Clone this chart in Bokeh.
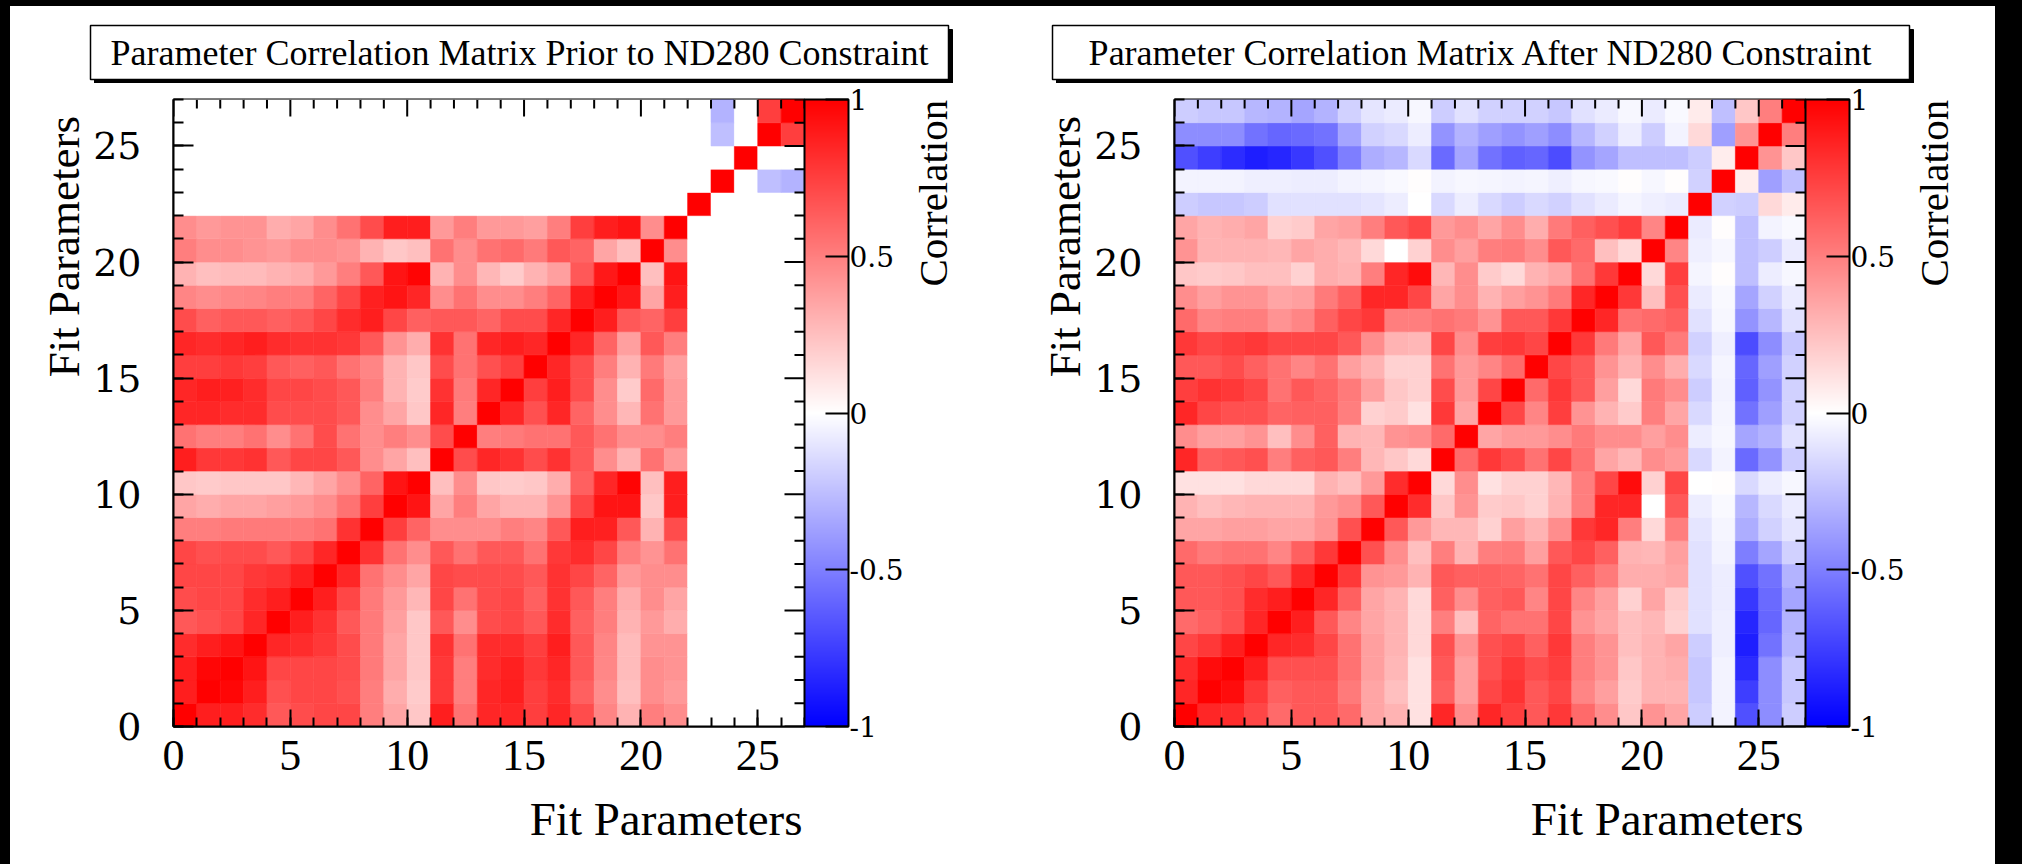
import math
import numpy as np
from bokeh.plotting import figure
from bokeh.models import (ColumnDataSource, LinearColorMapper, ColorBar,
                          SingleIntervalTicker, FixedTicker, PrintfTickFormatter, Label, Range1d)
from bokeh.layouts import row, column
from bokeh.transform import transform
from bokeh.embed import file_html
from bokeh.resources import INLINE

N_PARAMS = 27

# Lower triangle of the correlation matrix before the near-detector fit (row i, columns 0..i)
prior_rows = [
    [1.00],
    [0.88, 1.00],
    [0.88, 0.97, 1.00],
    [0.82, 0.88, 0.92, 1.00],
    [0.65, 0.68, 0.72, 0.85, 1.00],
    [0.70, 0.72, 0.72, 0.82, 0.88, 1.00],
    [0.72, 0.72, 0.72, 0.78, 0.80, 0.88, 1.00],
    [0.72, 0.68, 0.70, 0.70, 0.65, 0.72, 0.85, 1.00],
    [0.50, 0.50, 0.52, 0.52, 0.52, 0.52, 0.55, 0.80, 1.00],
    [0.35, 0.32, 0.35, 0.35, 0.38, 0.40, 0.45, 0.55, 0.75, 1.00],
    [0.22, 0.20, 0.22, 0.22, 0.22, 0.28, 0.35, 0.45, 0.60, 0.92, 1.00],
    [0.88, 0.78, 0.78, 0.80, 0.65, 0.72, 0.72, 0.65, 0.45, 0.35, 0.25, 1.00],
    [0.55, 0.50, 0.50, 0.55, 0.45, 0.55, 0.70, 0.55, 0.45, 0.50, 0.45, 0.70, 1.00],
    [0.85, 0.85, 0.82, 0.82, 0.70, 0.70, 0.70, 0.65, 0.45, 0.35, 0.22, 0.85, 0.50, 1.00],
    [0.85, 0.88, 0.87, 0.82, 0.72, 0.72, 0.70, 0.65, 0.50, 0.30, 0.20, 0.80, 0.52, 0.85, 1.00],
    [0.75, 0.75, 0.78, 0.75, 0.65, 0.62, 0.65, 0.55, 0.48, 0.30, 0.22, 0.70, 0.55, 0.68, 0.75, 1.00],
    [0.85, 0.82, 0.85, 0.88, 0.82, 0.80, 0.80, 0.78, 0.65, 0.42, 0.32, 0.80, 0.55, 0.85, 0.88, 0.85, 1.00],
    [0.70, 0.62, 0.65, 0.65, 0.62, 0.65, 0.72, 0.82, 0.88, 0.72, 0.62, 0.65, 0.65, 0.60, 0.70, 0.70, 0.85, 1.00],
    [0.48, 0.45, 0.47, 0.48, 0.50, 0.50, 0.60, 0.72, 0.87, 0.92, 0.85, 0.45, 0.55, 0.45, 0.45, 0.50, 0.60, 0.88, 1.00],
    [0.30, 0.25, 0.27, 0.27, 0.30, 0.32, 0.40, 0.50, 0.65, 0.92, 0.98, 0.30, 0.45, 0.28, 0.20, 0.30, 0.38, 0.65, 0.90, 1.00],
    [0.50, 0.45, 0.45, 0.42, 0.40, 0.45, 0.45, 0.42, 0.30, 0.22, 0.25, 0.55, 0.45, 0.55, 0.58, 0.52, 0.65, 0.60, 0.35, 0.25, 1.00],
    [0.45, 0.40, 0.42, 0.42, 0.32, 0.35, 0.45, 0.55, 0.70, 0.88, 0.88, 0.40, 0.50, 0.40, 0.40, 0.38, 0.50, 0.75, 0.88, 0.92, 0.45, 1.00],
    [0, 0, 0, 0, 0, 0, 0, 0, 0, 0, 0, 0, 0, 0, 0, 0, 0, 0, 0, 0, 0, 0, 1.00],
    [0, 0, 0, 0, 0, 0, 0, 0, 0, 0, 0, 0, 0, 0, 0, 0, 0, 0, 0, 0, 0, 0, 0, 1.00],
    [0, 0, 0, 0, 0, 0, 0, 0, 0, 0, 0, 0, 0, 0, 0, 0, 0, 0, 0, 0, 0, 0, 0, 0, 1.00],
    [0, 0, 0, 0, 0, 0, 0, 0, 0, 0, 0, 0, 0, 0, 0, 0, 0, 0, 0, 0, 0, 0, 0, -0.25, 0, 1.00],
    [0, 0, 0, 0, 0, 0, 0, 0, 0, 0, 0, 0, 0, 0, 0, 0, 0, 0, 0, 0, 0, 0, 0, -0.30, 0, 0.75, 1.00],
]

# Lower triangle of the correlation matrix after the near-detector fit
after_rows = [
    [1.00],
    [0.85, 1.00],
    [0.82, 0.95, 1.00],
    [0.72, 0.78, 0.88, 1.00],
    [0.58, 0.62, 0.68, 0.85, 1.00],
    [0.65, 0.65, 0.68, 0.82, 0.88, 1.00],
    [0.65, 0.65, 0.68, 0.72, 0.65, 0.85, 1.00],
    [0.58, 0.52, 0.55, 0.55, 0.48, 0.62, 0.78, 1.00],
    [0.35, 0.35, 0.38, 0.38, 0.35, 0.35, 0.42, 0.68, 1.00],
    [0.30, 0.25, 0.28, 0.30, 0.30, 0.30, 0.40, 0.45, 0.65, 1.00],
    [0.12, 0.12, 0.12, 0.15, 0.15, 0.15, 0.30, 0.25, 0.40, 0.82, 1.00],
    [0.85, 0.62, 0.65, 0.68, 0.50, 0.62, 0.65, 0.50, 0.28, 0.22, 0.15, 1.00],
    [0.45, 0.38, 0.38, 0.42, 0.25, 0.45, 0.62, 0.30, 0.28, 0.42, 0.45, 0.58, 1.00],
    [0.85, 0.72, 0.68, 0.68, 0.60, 0.62, 0.62, 0.50, 0.18, 0.20, 0.12, 0.78, 0.35, 1.00],
    [0.75, 0.80, 0.78, 0.72, 0.55, 0.65, 0.60, 0.52, 0.38, 0.22, 0.18, 0.70, 0.40, 0.72, 1.00],
    [0.65, 0.65, 0.70, 0.62, 0.55, 0.48, 0.55, 0.38, 0.30, 0.18, 0.18, 0.55, 0.40, 0.48, 0.58, 1.00],
    [0.78, 0.72, 0.75, 0.78, 0.72, 0.72, 0.72, 0.65, 0.45, 0.30, 0.28, 0.72, 0.45, 0.75, 0.78, 0.72, 1.00],
    [0.58, 0.48, 0.50, 0.50, 0.42, 0.48, 0.62, 0.72, 0.78, 0.50, 0.50, 0.55, 0.52, 0.42, 0.65, 0.65, 0.78, 1.00],
    [0.45, 0.38, 0.42, 0.42, 0.35, 0.38, 0.52, 0.62, 0.85, 0.85, 0.72, 0.35, 0.45, 0.30, 0.38, 0.42, 0.52, 0.85, 1.00],
    [0.22, 0.20, 0.22, 0.25, 0.25, 0.18, 0.32, 0.30, 0.50, 0.85, 0.95, 0.28, 0.45, 0.20, 0.15, 0.30, 0.35, 0.55, 0.78, 1.00],
    [0.42, 0.30, 0.30, 0.30, 0.28, 0.35, 0.32, 0.28, 0.15, 0.00, 0.18, 0.45, 0.38, 0.50, 0.52, 0.45, 0.65, 0.58, 0.25, 0.15, 1.00],
    [0.35, 0.30, 0.32, 0.35, 0.18, 0.20, 0.35, 0.38, 0.50, 0.65, 0.72, 0.40, 0.45, 0.35, 0.45, 0.32, 0.52, 0.62, 0.68, 0.75, 0.48, 1.00],
    [-0.20, -0.22, -0.22, -0.20, -0.12, -0.12, -0.12, -0.12, -0.10, -0.07, 0.00, -0.15, -0.07, -0.15, -0.20, -0.15, -0.18, -0.12, -0.08, -0.04, -0.06, -0.08, 1.00],
    [-0.05, -0.05, -0.05, -0.06, -0.06, -0.07, -0.07, -0.05, -0.04, -0.02, 0.01, -0.05, -0.03, -0.04, -0.05, -0.04, -0.06, -0.03, -0.02, 0.01, -0.03, 0.01, -0.18, 1.00],
    [-0.68, -0.75, -0.82, -0.88, -0.85, -0.78, -0.68, -0.50, -0.32, -0.28, -0.15, -0.58, -0.35, -0.55, -0.62, -0.60, -0.70, -0.42, -0.35, -0.25, -0.25, -0.25, -0.20, 0.07, 1.00],
    [-0.45, -0.45, -0.45, -0.55, -0.60, -0.58, -0.55, -0.35, -0.18, -0.15, -0.07, -0.42, -0.30, -0.38, -0.42, -0.38, -0.45, -0.28, -0.18, -0.07, -0.20, -0.05, 0.15, -0.38, 0.42, 1.00],
    [-0.20, -0.22, -0.22, -0.28, -0.30, -0.35, -0.30, -0.18, -0.10, -0.08, -0.03, -0.20, -0.12, -0.18, -0.18, -0.18, -0.22, -0.12, -0.08, -0.03, -0.08, -0.02, 0.08, -0.25, 0.22, 0.50, 1.00],
]

prior_title = "Parameter Correlation Matrix Prior to ND280 Constraint"
after_title = "Parameter Correlation Matrix After ND280 Constraint"
axis_title = "Fit Parameters"
z_title = "Correlation"
z_ticks = [-1, -0.5, 0, 0.5, 1]

# ---- page geometry (pixels) ----
PAGE_TOP, PAGE_LEFT, PAGE_W = 6, 10, 1985
FRAME_W, FRAME_H = 631, 627
TITLE_H = 77            # strip holding the title pave
YT_W = 80               # strip holding the vertical axis title
MAIN_L, MAIN_R, MAIN_T, MAIN_B = 82, 104, 16, 60
ROW_H = MAIN_T + FRAME_H + MAIN_B
XT_H = 864 - PAGE_TOP - TITLE_H - ROW_H
MAIN_W = MAIN_L + FRAME_W + MAIN_R
SERIF = "Liberation Serif"
SCHOOL = "DejaVu Serif"


def blue_white_red(n=255):
    """Diverging palette: blue at -1, white at 0, red at +1."""
    half = (n - 1) // 2
    cols = []
    for i in range(n):
        t = i / half - 1.0
        if t < 0:
            c = int(round(255 * (1 + t)))
            cols.append("#%02x%02x%02x" % (c, c, 255))
        else:
            c = int(round(255 * (1 - t)))
            cols.append("#%02x%02x%02x" % (255, c, c))
    return cols


def full_matrix(lower):
    m = np.zeros((N_PARAMS, N_PARAMS))
    for i, r in enumerate(lower):
        for j, v in enumerate(r):
            m[i, j] = v
            m[j, i] = v
    return m


PALETTE = blue_white_red()


def blank_fig(width, height):
    """A figure whose frame fills the canvas, in pixel units, for free-standing text."""
    f = figure(width=width, height=height, x_range=Range1d(0, width), y_range=Range1d(0, height),
               min_border=0, x_axis_location=None, y_axis_location=None,
               outline_line_color=None, background_fill_color="white",
               border_fill_color="white", output_backend="svg", toolbar_location=None)
    f.grid.visible = False
    f.title.visible = False
    return f


def heatmap_fig(lower):
    m = full_matrix(lower)
    xs, ys, vs = [], [], []
    for i in range(N_PARAMS):
        for j in range(N_PARAMS):
            xs.append(j + 0.5)
            ys.append(i + 0.5)
            vs.append(float(m[i, j]))
    src = ColumnDataSource(dict(x=xs, y=ys, v=vs))
    mapper = LinearColorMapper(palette=PALETTE, low=-1, high=1)

    p = figure(frame_width=FRAME_W, frame_height=FRAME_H,
               min_border_left=MAIN_L, min_border_right=MAIN_R,
               min_border_top=MAIN_T, min_border_bottom=MAIN_B,
               x_range=Range1d(0, N_PARAMS), y_range=Range1d(0, N_PARAMS),
               output_backend="svg", toolbar_location=None,
               background_fill_color="white", border_fill_color="white",
               outline_line_color="black", outline_line_width=2)
    p.grid.visible = False
    p.title.visible = False

    p.rect(x="x", y="y", width=1, height=1, source=src,
           fill_color=transform("v", mapper), line_color=transform("v", mapper),
           line_width=0.6)

    ticker = SingleIntervalTicker(interval=5, num_minor_ticks=5)
    for ax in (p.xaxis[0], p.yaxis[0]):
        ax.ticker = ticker
        ax.major_tick_out = 0
        ax.minor_tick_out = 0
        ax.axis_line_width = 2
        ax.axis_line_color = "black"
        ax.major_tick_line_width = 2
        ax.minor_tick_line_width = 2
        ax.major_tick_line_color = "black"
        ax.minor_tick_line_color = "black"
        ax.major_label_text_color = "black"
    xb, yl = p.xaxis[0], p.yaxis[0]
    xb.major_tick_in, xb.minor_tick_in = 17, 9
    yl.major_tick_in, yl.minor_tick_in = 20, 10
    xb.major_label_text_font = SERIF
    xb.major_label_text_font_size = "44px"
    xb.major_label_standoff = 14
    yl.major_label_text_font = SCHOOL
    yl.major_label_text_font_size = "38px"
    yl.major_label_standoff = 32

    # tick marks mirrored on the top and right edges of the frame
    all_ticks = list(range(0, N_PARAMS + 1))
    major = [t for t in all_ticks if t % 5 == 0]
    minor = [t for t in all_ticks if t % 5 != 0]
    top = N_PARAMS
    p.ray(x=major, y=[top] * len(major), length=17, length_units="screen",
          angle=-math.pi / 2, line_color="black", line_width=2)
    p.ray(x=minor, y=[top] * len(minor), length=9, length_units="screen",
          angle=-math.pi / 2, line_color="black", line_width=2)
    p.ray(x=[top] * len(major), y=major, length=20, length_units="screen",
          angle=math.pi, line_color="black", line_width=2)
    p.ray(x=[top] * len(minor), y=minor, length=10, length_units="screen",
          angle=math.pi, line_color="black", line_width=2)

    cb = ColorBar(color_mapper=mapper, width=44, padding=0, margin=0,
                  ticker=FixedTicker(ticks=z_ticks, minor_ticks=[]),
                  formatter=PrintfTickFormatter(format="%g"),
                  major_tick_in=23, major_tick_out=0,
                  major_tick_line_color="black", major_tick_line_width=2,
                  minor_tick_line_color=None,
                  bar_line_color="black", bar_line_width=2,
                  border_line_color=None, background_fill_color=None,
                  label_standoff=1,
                  major_label_text_font=SCHOOL,
                  major_label_text_font_size="28px",
                  major_label_text_color="black")
    p.add_layout(cb, "right")
    return p


def panel(lower, title_text, panel_w, box_left, box_right):
    # title pave with drop shadow
    tf = blank_fig(panel_w, TITLE_H)
    box_bottom, box_top, shadow = 4, 58, 4
    tf.quad(left=box_left + shadow, right=box_right + shadow,
            bottom=box_bottom - shadow, top=box_top - shadow,
            fill_color="black", line_color="black")
    tf.quad(left=box_left, right=box_right, bottom=box_bottom, top=box_top,
            fill_color="white", line_color="black", line_width=1.5)
    tf.add_layout(Label(x=(box_left + box_right) / 2, y=(box_bottom + box_top) / 2,
                        text=title_text, text_align="center", text_baseline="middle",
                        text_font=SERIF, text_font_size="36px", text_color="black"))

    # vertical axis title, near the top of the frame
    yf = blank_fig(YT_W, ROW_H)
    yf.add_layout(Label(x=53, y=ROW_H - MAIN_T - 149, text=axis_title,
                        angle=math.pi / 2, angle_units="rad",
                        text_align="center", text_baseline="middle",
                        text_font=SERIF, text_font_size="45px", text_color="black"))

    hm = heatmap_fig(lower)

    # colour-axis title
    cw = panel_w - YT_W - MAIN_W
    cf = blank_fig(cw, ROW_H)
    cf.add_layout(Label(x=24, y=ROW_H - MAIN_T - 89, text=z_title,
                        angle=math.pi / 2, angle_units="rad",
                        text_align="center", text_baseline="middle",
                        text_font=SERIF, text_font_size="41px", text_color="black"))

    # horizontal axis title, aligned with the right end of the frame
    xf = blank_fig(panel_w, XT_H)
    xf.add_layout(Label(x=YT_W + MAIN_L + FRAME_W - 1, y=XT_H - 32, text=axis_title,
                        text_align="right", text_baseline="middle",
                        text_font=SERIF, text_font_size="47px", text_color="black"))

    return column(tf, row(yf, hm, cf, spacing=0), xf, spacing=0)


left_panel = panel(prior_rows, prior_title, 1000, 80, 938)
right_panel = panel(after_rows, after_title, 985, 41, 898)

layout = row(left_panel, right_panel, spacing=0)
html = file_html(layout, INLINE, title="Parameter correlation matrices")
style = ("<style>html{background:#000;margin:0;padding:0;}"
         "body{margin:0;padding:0;background:#fff;position:absolute;left:%dpx;top:%dpx;"
         "width:%dpx;height:%dpx;overflow:hidden;}</style>"
         % (PAGE_LEFT, PAGE_TOP, PAGE_W, 864 - PAGE_TOP))
html = html.replace("</head>", style + "</head>", 1)
open("out.html", "w").write(html)
